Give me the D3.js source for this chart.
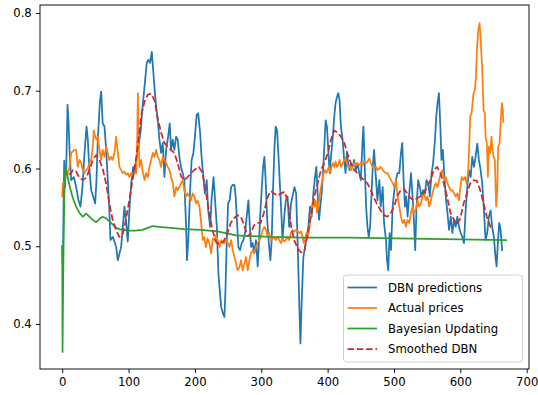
<!DOCTYPE html>
<html>
<head>
<meta charset="utf-8">
<script src="https://cdn.jsdelivr.net/npm/d3@7"></script>
<style>
html,body{margin:0;padding:0;background:#fff;}
svg{display:block;}
text{font-family:"DejaVu Sans",sans-serif;}
</style>
</head>
<body>
<svg id="chart" width="538" height="395"></svg>
<script>
const seriesNames = ["DBN predictions", "Actual prices", "Bayesian Updating", "Smoothed DBN"];
const xTicks = [0, 100, 200, 300, 400, 500, 600, 700];
const yTicks = [0.4, 0.5, 0.6, 0.7, 0.8];

const dbn = [[0,0.50],[1,0.47],[2,0.55],[3,0.61],[4,0.575],[5,0.59],[6,0.60],[8,0.682],[9.5,0.66],[11,0.624],[13.5,0.585],[17.5,0.589],[21,0.576],[24.5,0.559],[27.5,0.551],[30.5,0.576],[33.6,0.62],[36.6,0.654],[38.6,0.637],[40.6,0.602],[43.7,0.572],[46.7,0.564],[49.7,0.555],[51.6,0.585],[53.6,0.637],[56.6,0.684],[58.7,0.699],[61,0.658],[63.7,0.654],[66.2,0.624],[68.7,0.585],[71.2,0.543],[72.7,0.508],[76.2,0.512],[78.8,0.506],[81.3,0.499],[83.8,0.482],[86.3,0.491],[88.8,0.499],[91.3,0.525],[93.8,0.551],[96.4,0.530],[98.8,0.506],[101,0.543],[104,0.581],[107,0.602],[109,0.594],[111,0.607],[114,0.624],[118,0.646],[121,0.679],[125,0.714],[127.4,0.736],[130,0.740],[132.5,0.736],[135,0.750],[137,0.727],[139,0.705],[141.6,0.679],[144,0.662],[146.5,0.637],[149,0.620],[151.5,0.633],[154,0.589],[156.6,0.624],[159,0.637],[162,0.658],[164,0.624],[166.6,0.637],[169,0.624],[171.7,0.641],[174,0.637],[176.6,0.615],[179,0.602],[181.6,0.594],[184,0.585],[186.7,0.525],[188,0.482],[190,0.508],[192.7,0.572],[195,0.611],[197.7,0.620],[200,0.641],[202.7,0.669],[205,0.671],[207.8,0.646],[210,0.615],[212.8,0.589],[215,0.568],[217.8,0.585],[220,0.546],[223,0.525],[225,0.559],[228,0.589],[230,0.564],[233,0.525],[235.4,0.465],[237,0.448],[239.5,0.422],[242,0.414],[244.4,0.409],[246,0.443],[248,0.508],[250,0.555],[252.4,0.559],[254.5,0.576],[257,0.579],[259.5,0.579],[261.4,0.564],[263.5,0.530],[265.5,0.499],[268,0.495],[270.5,0.504],[273,0.508],[275.6,0.517],[278,0.538],[280.6,0.559],[282.5,0.530],[284.6,0.499],[287,0.504],[289.6,0.491],[292,0.508],[294.6,0.474],[296.7,0.508],[298.6,0.543],[300.6,0.572],[302.7,0.602],[304.7,0.615],[306.6,0.585],[308.7,0.538],[311,0.508],[313.7,0.482],[315.7,0.508],[317.7,0.572],[319.7,0.624],[321.7,0.654],[323.8,0.649],[325.7,0.620],[327.7,0.585],[329.8,0.551],[332,0.508],[334.6,0.538],[337,0.559],[339.7,0.564],[342,0.525],[344.8,0.555],[347,0.564],[350,0.576],[352.5,0.568],[354.8,0.504],[357.4,0.422],[359,0.375],[361,0.431],[363.4,0.486],[366,0.499],[368.4,0.512],[371,0.525],[373.5,0.551],[376,0.538],[378.5,0.568],[381,0.589],[383,0.602],[385,0.568],[387,0.534],[389,0.551],[391,0.568],[393,0.594],[395,0.628],[397,0.662],[399,0.654],[401,0.624],[403,0.594],[405,0.615],[407.5,0.637],[410,0.667],[412,0.684],[414,0.692],[416,0.697],[418,0.688],[420,0.654],[422.6,0.637],[425,0.611],[427,0.594],[429,0.620],[431,0.607],[433,0.598],[435,0.607],[437.6,0.602],[440,0.611],[442.7,0.598],[445,0.607],[447.7,0.594],[450,0.585],[452.7,0.637],[454,0.654],[456,0.602],[458,0.551],[460,0.525],[462,0.512],[464,0.525],[466,0.564],[468,0.602],[470,0.624],[473,0.585],[475,0.559],[478,0.585],[480,0.551],[483,0.576],[485,0.530],[488,0.508],[489.5,0.482],[491.4,0.469],[493.4,0.517],[495.5,0.495],[498,0.551],[500.5,0.572],[503,0.585],[505.4,0.594],[508,0.594],[510.5,0.620],[512.5,0.633],[514.5,0.585],[516.6,0.551],[518.5,0.564],[520.5,0.538],[523,0.568],[525.6,0.594],[528,0.564],[530.5,0.525],[532,0.495],[534,0.551],[536.5,0.585],[539,0.576],[541.6,0.564],[544,0.572],[546.7,0.568],[549,0.585],[551.6,0.581],[554,0.564],[556.7,0.594],[559,0.607],[561.8,0.637],[563.7,0.667],[565.7,0.684],[567.8,0.697],[569.7,0.658],[571.6,0.611],[573.7,0.624],[575.7,0.594],[578,0.564],[580.6,0.543],[583,0.521],[585.6,0.538],[588,0.517],[590.5,0.534],[593,0.525],[595.5,0.538],[598,0.525],[600.5,0.517],[603,0.512],[605.5,0.504],[608,0.546],[610.5,0.576],[613,0.598],[615.6,0.589],[618,0.615],[620.5,0.602],[623,0.615],[625.5,0.632],[628,0.611],[630.6,0.598],[633,0.581],[635.6,0.546],[638,0.508],[640.6,0.517],[643,0.538],[645.6,0.546],[648,0.525],[650.6,0.512],[653,0.486],[654.6,0.474],[656.6,0.504],[658.6,0.530],[660.7,0.521],[663,0.495]];

const actual = [[0,0.564],[1,0.581],[3,0.578],[5,0.59],[8,0.594],[11,0.602],[13.5,0.620],[16,0.622],[18.5,0.624],[21,0.624],[23.5,0.602],[26,0.611],[28.6,0.607],[31,0.598],[33.6,0.594],[36,0.598],[38.6,0.60],[41,0.607],[43.7,0.611],[46,0.628],[47.6,0.649],[49.7,0.641],[51.6,0.637],[53.6,0.641],[56,0.624],[58.7,0.611],[61,0.624],[63.7,0.615],[66.2,0.628],[68.7,0.620],[71,0.611],[73.7,0.615],[76,0.611],[78.8,0.620],[81.3,0.641],[83.8,0.620],[86.3,0.602],[88.8,0.598],[91.3,0.594],[93.8,0.596],[96.4,0.592],[98.8,0.594],[101,0.589],[104,0.594],[106.6,0.592],[109,0.594],[111.6,0.594],[113,0.637],[114,0.697],[115,0.641],[116.4,0.602],[119,0.611],[121,0.598],[124,0.585],[126.5,0.594],[129,0.589],[131.5,0.602],[134,0.611],[136.5,0.620],[139,0.615],[141.6,0.624],[144,0.615],[146.5,0.611],[149,0.602],[151.5,0.615],[154,0.611],[156.6,0.607],[159,0.602],[161.6,0.598],[164,0.589],[166.6,0.581],[169,0.564],[171.7,0.576],[174,0.572],[176.6,0.576],[179,0.581],[181.6,0.585],[184,0.572],[186.7,0.564],[189,0.568],[191.7,0.564],[194,0.559],[196.6,0.568],[199,0.564],[201.7,0.555],[204,0.559],[206.7,0.551],[209,0.534],[211.7,0.508],[214,0.512],[216.6,0.499],[219,0.51],[221.7,0.504],[224.4,0.491],[227,0.51],[229.5,0.508],[232,0.514],[234.6,0.506],[237,0.499],[239.5,0.508],[242,0.504],[244.4,0.504],[247,0.508],[249.5,0.504],[252,0.499],[254.5,0.508],[257,0.495],[259.5,0.486],[262,0.478],[264.5,0.469],[267,0.473],[269.5,0.482],[272,0.469],[274.6,0.478],[277,0.486],[279.6,0.469],[282,0.482],[284.6,0.491],[287,0.495],[289.6,0.491],[292,0.499],[294.6,0.504],[297,0.508],[299.6,0.512],[302,0.521],[304.6,0.525],[307,0.521],[309.6,0.512],[312,0.517],[314.6,0.508],[317,0.512],[319.7,0.51],[322,0.508],[324.6,0.512],[327,0.508],[329.8,0.504],[332,0.51],[334.6,0.506],[337,0.508],[339.7,0.512],[342,0.508],[344.8,0.517],[347,0.521],[350,0.519],[352.5,0.521],[355,0.519],[357.4,0.517],[360,0.519],[362.4,0.512],[364,0.504],[366,0.508],[368,0.517],[370,0.512],[372,0.521],[374,0.534],[376,0.547],[378,0.559],[380,0.551],[382,0.559],[384,0.543],[386,0.551],[388,0.564],[390,0.576],[392,0.585],[394,0.594],[396,0.598],[398,0.594],[400,0.598],[402,0.602],[404,0.594],[406,0.602],[408,0.607],[410,0.602],[412,0.609],[414,0.602],[416,0.604],[418,0.611],[420,0.602],[422.6,0.607],[425,0.611],[427,0.613],[429,0.607],[431,0.602],[433,0.604],[435,0.598],[437.6,0.602],[440,0.607],[442.7,0.604],[445,0.607],[447.7,0.604],[450,0.607],[452.7,0.604],[455,0.609],[457.7,0.607],[460,0.609],[463,0.613],[465,0.607],[467.7,0.602],[470,0.60],[473,0.602],[475,0.598],[478,0.60],[480,0.602],[483,0.598],[485,0.596],[488,0.594],[490.5,0.594],[493,0.589],[495.5,0.585],[498,0.581],[500.5,0.576],[503,0.585],[505.4,0.564],[508,0.551],[510.5,0.538],[513,0.530],[515.5,0.534],[518,0.525],[520.5,0.534],[523,0.530],[525.6,0.543],[528,0.551],[530.5,0.543],[533,0.547],[535.5,0.559],[538,0.551],[540.5,0.555],[543,0.564],[545.6,0.568],[548,0.559],[550.6,0.564],[553,0.551],[555.6,0.559],[558,0.568],[560.6,0.576],[563,0.581],[565.7,0.576],[568,0.585],[570.6,0.594],[573,0.598],[575.7,0.585],[578,0.589],[580.6,0.581],[583,0.576],[585.6,0.572],[588,0.572],[590.5,0.568],[593,0.564],[595.5,0.568],[598,0.559],[599.5,0.572],[602,0.589],[604.5,0.585],[607,0.589],[609.5,0.581],[612,0.598],[613.5,0.632],[615,0.667],[617,0.671],[618.4,0.684],[620,0.697],[622,0.701],[623.5,0.718],[625,0.752],[627,0.778],[629,0.787],[631,0.761],[633,0.727],[635,0.675],[637,0.671],[638,0.641],[640,0.632],[641.6,0.589],[643,0.628],[645,0.62],[647,0.641],[648,0.628],[650,0.615],[652,0.611],[654,0.551],[655.6,0.572],[657,0.628],[659,0.632],[661,0.662],[662.6,0.684],[664,0.675],[665,0.66]];

const bayes = [[0,0.50],[0.5,0.364],[1,0.42],[2,0.50],[3,0.56],[4,0.59],[5,0.60],[6,0.598],[8,0.59],[11,0.578],[16,0.562],[21,0.551],[26,0.543],[31,0.538],[36,0.542],[41,0.538],[46,0.534],[51,0.531],[56,0.535],[61,0.538],[66,0.536],[71,0.532],[76,0.528],[81,0.524],[86,0.522],[91,0.521],[99,0.520],[109,0.520],[121,0.521],[130,0.524],[136,0.526],[146,0.525],[159,0.524],[184,0.522],[209,0.521],[234,0.519],[262,0.514],[312,0.512],[362,0.511],[432,0.511],[669,0.508]];

const smooth = [[10,0.592],[13.5,0.594],[16,0.598],[21,0.596],[26,0.588],[31,0.585],[36,0.588],[41,0.598],[46,0.611],[51,0.617],[56,0.611],[61,0.600],[66,0.581],[71,0.555],[76,0.534],[81,0.521],[86,0.512],[91,0.515],[96,0.534],[101,0.559],[106,0.585],[111,0.611],[114,0.630],[119,0.668],[124,0.686],[129,0.695],[134,0.696],[139,0.688],[144,0.664],[149,0.646],[154,0.633],[159,0.628],[164,0.624],[169,0.620],[174,0.607],[179,0.590],[184,0.585],[189,0.589],[194,0.594],[199,0.598],[206,0.602],[211,0.595],[216,0.572],[221,0.546],[226,0.522],[232,0.505],[237,0.503],[243,0.506],[249,0.517],[254,0.530],[259,0.536],[264,0.540],[269,0.538],[274,0.528],[279,0.513],[284,0.516],[289,0.527],[294,0.530],[299,0.530],[304,0.543],[309,0.562],[314,0.571],[319,0.568],[324,0.565],[330,0.568],[335,0.570],[340,0.558],[345,0.525],[350,0.507],[355,0.497],[360,0.492],[365,0.494],[370,0.516],[375,0.540],[380,0.564],[385,0.581],[390,0.598],[395,0.607],[400,0.619],[405,0.637],[410,0.649],[415,0.646],[420,0.641],[425,0.633],[430,0.619],[435,0.607],[440,0.598],[445,0.594],[450,0.589],[455,0.585],[460,0.581],[465,0.572],[470,0.562],[475,0.553],[480,0.546],[485,0.540],[490,0.538],[495,0.542],[500,0.551],[505,0.564],[510,0.572],[515,0.574],[520,0.568],[525,0.562],[530,0.559],[535,0.562],[540,0.564],[545,0.568],[550,0.576],[555,0.585],[560,0.598],[565,0.602],[570,0.594],[575,0.581],[580,0.564],[585,0.543],[590,0.535],[595,0.528],[600,0.536],[605,0.555],[610,0.568],[615,0.581],[620,0.585],[625,0.584],[630,0.572],[635,0.555],[640,0.538],[646,0.524]];

const colors = ["#1f77b4", "#ff7f0e", "#2ca02c", "#d62728"];

const L = 40, R = 529, T = 5, B = 369;
const svg = d3.select("#chart");
const x = d3.scaleLinear().domain([-33.5, 703.5]).range([L, R]);
const y = d3.scaleLinear().domain([0.3421, 0.8103]).range([B, T]);

svg.append("defs").append("clipPath").attr("id", "clip")
  .append("rect").attr("x", L).attr("y", T).attr("width", R - L).attr("height", B - T);

const line = d3.line().x(d => x(d[0])).y(d => y(d[1]));
const plot = svg.append("g").attr("clip-path", "url(#clip)");
const series = [dbn, actual, bayes, smooth];
series.forEach((s, i) => {
  plot.append("path").datum(s)
    .attr("d", line)
    .attr("fill", "none")
    .attr("stroke", colors[i])
    .attr("stroke-width", 1.75)
    .attr("stroke-linejoin", "round")
    .attr("stroke-linecap", i === 3 ? "butt" : "square")
    .attr("stroke-dasharray", i === 3 ? "6.5,2.8" : null);
});

// axes
const fs = "11.7px";
const xAxis = d3.axisBottom(x).tickValues(xTicks).tickSize(4.1).tickPadding(4.1).tickFormat(d3.format("d"));
const yAxis = d3.axisLeft(y).tickValues(yTicks).tickSize(4.1).tickPadding(4.1).tickFormat(d3.format(".1f"));
const gx = svg.append("g").attr("transform", `translate(0,${B})`).call(xAxis);
const gy = svg.append("g").attr("transform", `translate(${L},0)`).call(yAxis);
[gx, gy].forEach(g => {
  g.select(".domain").remove();
  g.selectAll(".tick line").attr("stroke", "#000").attr("stroke-width", 0.93);
  g.selectAll(".tick text").attr("fill", "#000").style("font-size", fs).style("font-family", "DejaVu Sans");
});

svg.append("rect").attr("x", L).attr("y", T).attr("width", R - L).attr("height", B - T)
  .attr("fill", "none").attr("stroke", "#000").attr("stroke-width", 0.93);

// legend
const lg = svg.append("g");
lg.append("rect").attr("x", 343.5).attr("y", 275).attr("width", 179).attr("height", 87)
  .attr("rx", 3).attr("fill", "#fff").attr("fill-opacity", 0.8)
  .attr("stroke", "#cccccc").attr("stroke-width", 0.93);
const rowY = [287.5, 308, 328.5, 349];
seriesNames.forEach((n, i) => {
  lg.append("line").attr("x1", 347.5).attr("x2", 377).attr("y1", rowY[i]).attr("y2", rowY[i])
    .attr("stroke", colors[i]).attr("stroke-width", 1.75)
    .attr("stroke-dasharray", i === 3 ? "6.5,2.8" : null);
  lg.append("text").attr("x", 388).attr("y", rowY[i]).attr("dy", "0.36em")
    .style("font-size", fs).attr("fill", "#000").text(n);
});
</script>
</body>
</html>
